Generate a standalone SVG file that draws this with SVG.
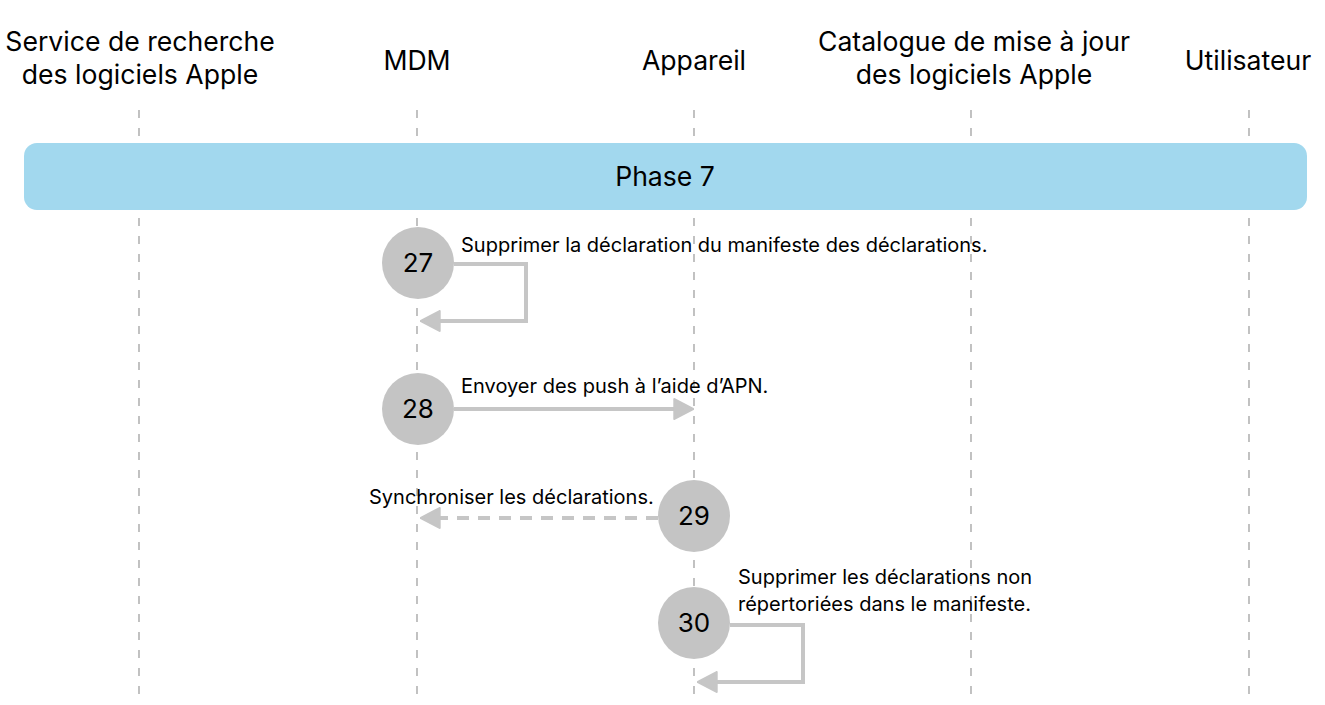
<svg xmlns="http://www.w3.org/2000/svg" width="1325" height="705" viewBox="0 0 1325 705">
<style>
.hdr{font-family:Inter,"Liberation Sans",Arial,sans-serif;font-size:26.6px;fill:#000;text-anchor:middle}
.lbl{font-family:Inter,"Liberation Sans",Arial,sans-serif;font-size:20px;fill:#000}
.num{font-family:Inter,"Liberation Sans",Arial,sans-serif;font-size:26px;fill:#000;text-anchor:middle}
.life{stroke:#999;stroke-width:1.2;stroke-dasharray:8 10;fill:none}
.conn{stroke:#c6c6c6;stroke-width:4;fill:none;stroke-linejoin:miter}
.circ{fill:#c4c4c4}
</style>
<defs>
<marker id="ah" viewBox="0 0 10 10" refX="9" refY="5" markerWidth="5.5" markerHeight="5.5" orient="auto" markerUnits="strokeWidth">
<path d="M1,0.5 L9.5,5 L1,9.5 z" fill="#c6c6c6" stroke="#c6c6c6" stroke-width="1" stroke-linejoin="round"/>
</marker>
</defs>
<g id="lifelines">
<line class="life" x1="139" y1="110" x2="139" y2="698"/>
<line class="life" x1="417" y1="110" x2="417" y2="698"/>
<line class="life" x1="694" y1="110" x2="694" y2="698"/>
<line class="life" x1="971" y1="110" x2="971" y2="698"/>
<line class="life" x1="1249" y1="110" x2="1249" y2="698"/>
</g>
<g id="headers">
<text class="hdr" x="140" y="51">Service de recherche</text>
<text class="hdr" x="140" y="84">des logiciels Apple</text>
<text class="hdr" x="417" y="70">MDM</text>
<text class="hdr" x="694" y="70">Appareil</text>
<text class="hdr" x="974" y="51">Catalogue de mise à jour</text>
<text class="hdr" x="974" y="84">des logiciels Apple</text>
<text class="hdr" x="1248" y="70">Utilisateur</text>
</g>
<g id="phase7">
<rect x="24" y="143" width="1283" height="67" rx="13" fill="#a2d8ee"/>
<text class="hdr" x="665" y="186">Phase 7</text>
</g>
<g id="connectors">
<polyline class="conn" points="454,264 526,264 526,321 422,321" marker-end="url(#ah)"/>
<line class="conn" x1="454" y1="409" x2="692" y2="409" marker-end="url(#ah)"/>
<line class="conn" x1="658" y1="518" x2="422" y2="518" stroke-dasharray="12 9" marker-end="url(#ah)"/>
<polyline class="conn" points="730,625 803,625 803,682 699,682" marker-end="url(#ah)"/>
</g>
<g id="node27">
<circle class="circ" cx="418" cy="263" r="36"/>
<text class="num" x="418" y="272">27</text>
<text class="lbl" x="461" y="252">Supprimer la déclaration du manifeste des déclarations.</text>
</g>
<g id="node28">
<circle class="circ" cx="418" cy="409" r="36"/>
<text class="num" x="418" y="418">28</text>
<text class="lbl" x="461" y="393">Envoyer des push à l’aide d’APN.</text>
</g>
<g id="node29">
<circle class="circ" cx="694" cy="516" r="36"/>
<text class="num" x="694" y="525">29</text>
<text class="lbl" x="369" y="504">Synchroniser les déclarations.</text>
</g>
<g id="node30">
<circle class="circ" cx="694" cy="623" r="36"/>
<text class="num" x="694" y="632">30</text>
<text class="lbl" x="738" y="584">Supprimer les déclarations non</text>
<text class="lbl" x="738" y="611">répertoriées dans le manifeste.</text>
</g>
</svg>
